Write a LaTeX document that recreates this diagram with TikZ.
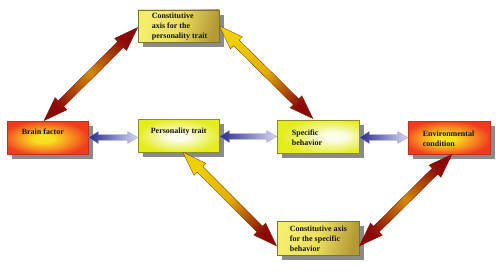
\documentclass[tikz,border=0pt]{standalone}
\usepackage{fontspec}
\setmainfont{Liberation Serif}
\usetikzlibrary{calc,shadows}
\definecolor{dred}{HTML}{8B0A08}
\definecolor{orng}{HTML}{D38A06}
\definecolor{yorng}{HTML}{E2AC04}
\definecolor{ylwa}{HTML}{F0D000}
\definecolor{bdark}{HTML}{2C2C8E}
\definecolor{bmid}{HTML}{8080C4}
\definecolor{blight}{HTML}{D8D8F2}
\definecolor{rbox}{HTML}{F03C1E}
\definecolor{rboxmid}{HTML}{F89420}
\definecolor{rboxin}{HTML}{F8E020}
\definecolor{ybox}{HTML}{E4EC1C}
\definecolor{yboxin}{HTML}{FCFCEA}
\definecolor{gl}{HTML}{F4EE70}
\definecolor{gm}{HTML}{ECDE60}
\definecolor{gd}{HTML}{B49A36}
\definecolor{shgray}{HTML}{8A8A8A}
\definecolor{ybord}{HTML}{8E8C24}
\definecolor{rbord}{HTML}{C0301A}
\definecolor{txt}{HTML}{141400}
\pgfdeclareradialshading{redsh}{\pgfpoint{-3bp}{-2bp}}{color(0bp)=(rboxin); color(6bp)=(rboxin); color(16bp)=(rboxmid); color(27bp)=(rbox); color(50bp)=(rbox)}
\pgfdeclareradialshading{ylwsh}{\pgfpoint{0bp}{-1bp}}{color(0bp)=(yboxin); color(6bp)=(yboxin); color(26bp)=(ybox); color(50bp)=(ybox)}
\pgfdeclareradialshading{ylwshr}{\pgfpoint{12bp}{0bp}}{color(0bp)=(yboxin); color(6bp)=(yboxin); color(28bp)=(ybox); color(50bp)=(ybox)}
\newcommand\blockarr[6]{%
  \path[#6] (#1)
   -- ($(#1)!#3!(#2)!#4!90:(#2)$)
   -- ($(#1)!#3!(#2)!#5!90:(#2)$)
   -- ($(#2)!#3!(#1)!#5!-90:(#1)$)
   -- ($(#2)!#3!(#1)!#4!-90:(#1)$)
   -- (#2)
   -- ($(#2)!#3!(#1)!#4!90:(#1)$)
   -- ($(#2)!#3!(#1)!#5!90:(#1)$)
   -- ($(#1)!#3!(#2)!#5!-90:(#2)$)
   -- ($(#1)!#3!(#2)!#4!-90:(#2)$)
   -- cycle;}
\tikzset{
  box/.style={minimum width=81pt, minimum height=33pt, inner sep=0pt, line width=0.7pt,
    drop shadow={shadow xshift=5pt, shadow yshift=-5pt, fill=shgray, opacity=1}},
  redbox/.style={box, draw=rbord, shade, shading=redsh},
  ylwbox/.style={box, draw=ybord, shade, shading=ylwsh},
  ylwboxr/.style={box, draw=ybord, shade, shading=ylwshr},
  goldbox/.style={box, draw=ybord!85!black, left color=gl, right color=gd, middle color=gm, shading angle=75},
  lbl/.style={anchor=west, inner sep=0pt, align=left, font=\fontsize{8}{10}\selectfont\bfseries, text=txt},
  rarr/.style={left color=dred, right color=dred, middle color=orng, shading angle=135, draw=dred!85!black, line width=0.3pt},
  yrarr/.style={left color=ylwa, right color=dred, middle color=yorng, shading angle=45, draw=dred!70!ylwa!70!black, line width=0.3pt},
  barr/.style={left color=bdark, right color=blight, middle color=bmid, draw=bdark!45!white, line width=0.3pt}
}
\begin{document}
\begin{tikzpicture}[x=1pt,y=-1pt]
\useasboundingbox[fill=white] (0,0) rectangle (500,278);
% boxes
\node[goldbox, minimum height=32pt] (ctp) at (178.5,26) {};
\node[redbox] (brain) at (47.5,137.5) {};
\node[ylwbox] (pers) at (178.5,135.5) {};
\node[ylwboxr, minimum width=82pt] (spec) at (318,136.5) {};
\node[redbox, minimum width=82pt] (env) at (449,137.5) {};
\node[goldbox, minimum width=82pt, minimum height=34pt] (csb) at (318,238) {};
% arrow end points
\coordinate (a1s) at ($(brain.north)+(-3.5,0)$);
\coordinate (a1e) at ($(ctp.west)+(0,1.5)$);
\coordinate (a2s) at (ctp.east);
\coordinate (a2e) at ($(spec.north)+(-5,-1)$);
\coordinate (a3s) at ($(pers.south)+(4.5,0)$);
\coordinate (a3e) at ($(csb.west)+(0,8)$);
\coordinate (a4s) at ($(env.south)+(3,0)$);
\coordinate (a4e) at ($(csb.east)+(0,8)$);
\coordinate (h1s) at (brain.east);
\coordinate (h1e) at (pers.west|-brain.east);
\coordinate (h2s) at (pers.east|-spec.west);
\coordinate (h2e) at (spec.west);
\coordinate (h3s) at (spec.east|-env.west);
\coordinate (h3e) at (env.west);
% diagonal arrows
\blockarr{a1s}{a1e}{24pt}{8.5pt}{4pt}{rarr}
\blockarr{a2s}{a2e}{24pt}{8.5pt}{4pt}{yrarr}
\blockarr{a3s}{a3e}{24pt}{8.5pt}{4pt}{yrarr}
\blockarr{a4s}{a4e}{24pt}{8.5pt}{4pt}{rarr}
% horizontal arrows
\blockarr{h1s}{h1e}{10pt}{6pt}{2.8pt}{barr}
\blockarr{h2s}{h2e}{10pt}{6pt}{2.8pt}{barr}
\blockarr{h3s}{h3e}{10pt}{6pt}{2.8pt}{barr}
% texts
\node[lbl] (tctp) at ($(ctp.west)+(14,0.5)$) {Constitutive\\axis for the\\personality trait};
\node[lbl] (tbrain) at ($(brain.west)+(15,-5.5)$) {Brain factor};
\node[lbl] (tpers) at ($(pers.west)+(13,-3.5)$) {Personality trait};
\node[lbl] (tspec) at ($(spec.west)+(15,1.5)$) {Specific\\behavior};
\node[lbl] (tenv) at ($(env.west)+(15,1.5)$) {Environmental\\condition};
\node[lbl] (tcsb) at ($(csb.west)+(13,1)$) {Constitutive axis\\for the specific\\behavior};
\end{tikzpicture}
\end{document}
